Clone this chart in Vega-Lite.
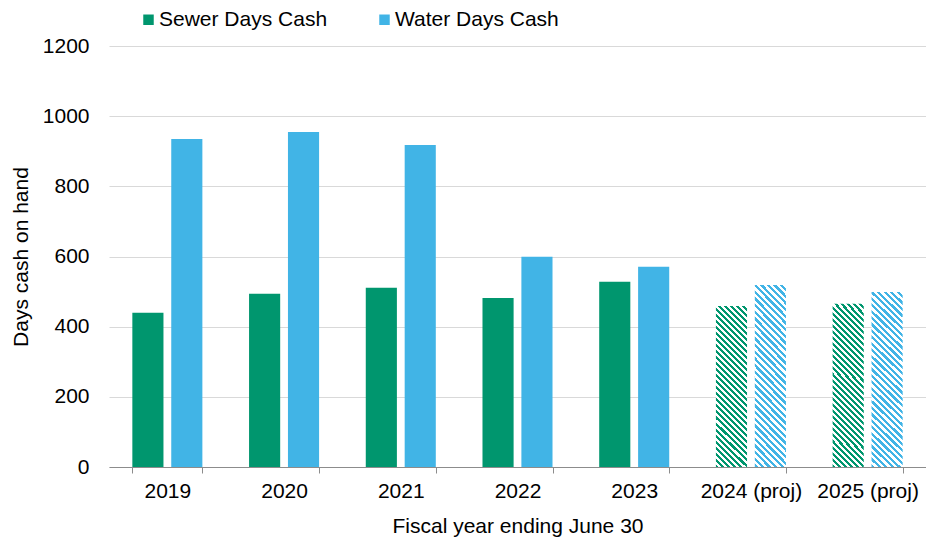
{
  "$schema": "https://vega.github.io/schema/vega-lite/v6.json",
  "width": 817,
  "height": 421,
  "autosize": {"type": "none"},
  "padding": {"left": 109, "top": 46, "right": 0, "bottom": 71},
  "background": "white",
  "config": {
    "font": "Liberation Sans",
    "view": {"stroke": null},
    "axis": {"labelColor": "#000", "titleColor": "#000", "labelFontSize": 21, "titleFontSize": 21, "titleFontWeight": "normal"},
    "legend": {"labelColor": "#000"}
  },
  "data": {
    "values": [
      {"year": "2019", "series": "Sewer Days Cash", "days": 440},
      {"year": "2019", "series": "Water Days Cash", "days": 935},
      {"year": "2020", "series": "Sewer Days Cash", "days": 494},
      {"year": "2020", "series": "Water Days Cash", "days": 955},
      {"year": "2021", "series": "Sewer Days Cash", "days": 511},
      {"year": "2021", "series": "Water Days Cash", "days": 918},
      {"year": "2022", "series": "Sewer Days Cash", "days": 482},
      {"year": "2022", "series": "Water Days Cash", "days": 599},
      {"year": "2023", "series": "Sewer Days Cash", "days": 528},
      {"year": "2023", "series": "Water Days Cash", "days": 571},
      {"year": "2024 (proj)", "series": "Sewer Days Cash", "days": 459},
      {"year": "2024 (proj)", "series": "Water Days Cash", "days": 519},
      {"year": "2025 (proj)", "series": "Sewer Days Cash", "days": 465},
      {"year": "2025 (proj)", "series": "Water Days Cash", "days": 499}
    ]
  },
  "mark": {"type": "bar"},
  "encoding": {
    "x": {
      "field": "year", "type": "nominal", "sort": null,
      "scale": {"paddingInner": 0.4, "paddingOuter": 0.2},
      "axis": {
        "title": "Fiscal year ending June 30", "labelAngle": 0, "tickBand": "extent",
        "domainColor": "#8c8c8c", "tickColor": "#8c8c8c", "tickSize": 6,
        "labelPadding": 7, "titlePadding": 14, "grid": false
      }
    },
    "xOffset": {
      "field": "series", "type": "nominal", "sort": ["Sewer Days Cash", "Water Days Cash"],
      "scale": {"paddingInner": 0.2, "paddingOuter": 0}
    },
    "y": {
      "field": "days", "type": "quantitative",
      "scale": {"domain": [0, 1200]},
      "axis": {
        "title": "Days cash on hand", "values": [0, 200, 400, 600, 800, 1000, 1200], "format": "d",
        "domain": false, "ticks": false, "labelPadding": 20, "titlePadding": 11,
        "gridColor": "#d9d9d9", "gridWidth": 1
      }
    },
    "fill": {
      "condition": [
        {
          "test": "datum.series === 'Sewer Days Cash' && indexof(datum.year, 'proj') >= 0",
          "value": {
            "gradient": "linear", "x1": 0, "y1": 1, "x2": 0.2223, "y2": -0.1515,
            "stops": [
              {"offset":0,"color":"#00966E"},{"offset":0.015625,"color":"#00966E"},{"offset":0.015625,"color":"#fff"},{"offset":0.03125,"color":"#fff"},
              {"offset":0.03125,"color":"#00966E"},{"offset":0.046875,"color":"#00966E"},{"offset":0.046875,"color":"#fff"},{"offset":0.0625,"color":"#fff"},
              {"offset":0.0625,"color":"#00966E"},{"offset":0.078125,"color":"#00966E"},{"offset":0.078125,"color":"#fff"},{"offset":0.09375,"color":"#fff"},
              {"offset":0.09375,"color":"#00966E"},{"offset":0.109375,"color":"#00966E"},{"offset":0.109375,"color":"#fff"},{"offset":0.125,"color":"#fff"},
              {"offset":0.125,"color":"#00966E"},{"offset":0.140625,"color":"#00966E"},{"offset":0.140625,"color":"#fff"},{"offset":0.15625,"color":"#fff"},
              {"offset":0.15625,"color":"#00966E"},{"offset":0.171875,"color":"#00966E"},{"offset":0.171875,"color":"#fff"},{"offset":0.1875,"color":"#fff"},
              {"offset":0.1875,"color":"#00966E"},{"offset":0.203125,"color":"#00966E"},{"offset":0.203125,"color":"#fff"},{"offset":0.21875,"color":"#fff"},
              {"offset":0.21875,"color":"#00966E"},{"offset":0.234375,"color":"#00966E"},{"offset":0.234375,"color":"#fff"},{"offset":0.25,"color":"#fff"},
              {"offset":0.25,"color":"#00966E"},{"offset":0.265625,"color":"#00966E"},{"offset":0.265625,"color":"#fff"},{"offset":0.28125,"color":"#fff"},
              {"offset":0.28125,"color":"#00966E"},{"offset":0.296875,"color":"#00966E"},{"offset":0.296875,"color":"#fff"},{"offset":0.3125,"color":"#fff"},
              {"offset":0.3125,"color":"#00966E"},{"offset":0.328125,"color":"#00966E"},{"offset":0.328125,"color":"#fff"},{"offset":0.34375,"color":"#fff"},
              {"offset":0.34375,"color":"#00966E"},{"offset":0.359375,"color":"#00966E"},{"offset":0.359375,"color":"#fff"},{"offset":0.375,"color":"#fff"},
              {"offset":0.375,"color":"#00966E"},{"offset":0.390625,"color":"#00966E"},{"offset":0.390625,"color":"#fff"},{"offset":0.40625,"color":"#fff"},
              {"offset":0.40625,"color":"#00966E"},{"offset":0.421875,"color":"#00966E"},{"offset":0.421875,"color":"#fff"},{"offset":0.4375,"color":"#fff"},
              {"offset":0.4375,"color":"#00966E"},{"offset":0.453125,"color":"#00966E"},{"offset":0.453125,"color":"#fff"},{"offset":0.46875,"color":"#fff"},
              {"offset":0.46875,"color":"#00966E"},{"offset":0.484375,"color":"#00966E"},{"offset":0.484375,"color":"#fff"},{"offset":0.5,"color":"#fff"},
              {"offset":0.5,"color":"#00966E"},{"offset":0.515625,"color":"#00966E"},{"offset":0.515625,"color":"#fff"},{"offset":0.53125,"color":"#fff"},
              {"offset":0.53125,"color":"#00966E"},{"offset":0.546875,"color":"#00966E"},{"offset":0.546875,"color":"#fff"},{"offset":0.5625,"color":"#fff"},
              {"offset":0.5625,"color":"#00966E"},{"offset":0.578125,"color":"#00966E"},{"offset":0.578125,"color":"#fff"},{"offset":0.59375,"color":"#fff"},
              {"offset":0.59375,"color":"#00966E"},{"offset":0.609375,"color":"#00966E"},{"offset":0.609375,"color":"#fff"},{"offset":0.625,"color":"#fff"},
              {"offset":0.625,"color":"#00966E"},{"offset":0.640625,"color":"#00966E"},{"offset":0.640625,"color":"#fff"},{"offset":0.65625,"color":"#fff"},
              {"offset":0.65625,"color":"#00966E"},{"offset":0.671875,"color":"#00966E"},{"offset":0.671875,"color":"#fff"},{"offset":0.6875,"color":"#fff"},
              {"offset":0.6875,"color":"#00966E"},{"offset":0.703125,"color":"#00966E"},{"offset":0.703125,"color":"#fff"},{"offset":0.71875,"color":"#fff"},
              {"offset":0.71875,"color":"#00966E"},{"offset":0.734375,"color":"#00966E"},{"offset":0.734375,"color":"#fff"},{"offset":0.75,"color":"#fff"},
              {"offset":0.75,"color":"#00966E"},{"offset":0.765625,"color":"#00966E"},{"offset":0.765625,"color":"#fff"},{"offset":0.78125,"color":"#fff"},
              {"offset":0.78125,"color":"#00966E"},{"offset":0.796875,"color":"#00966E"},{"offset":0.796875,"color":"#fff"},{"offset":0.8125,"color":"#fff"},
              {"offset":0.8125,"color":"#00966E"},{"offset":0.828125,"color":"#00966E"},{"offset":0.828125,"color":"#fff"},{"offset":0.84375,"color":"#fff"},
              {"offset":0.84375,"color":"#00966E"},{"offset":0.859375,"color":"#00966E"},{"offset":0.859375,"color":"#fff"},{"offset":0.875,"color":"#fff"},
              {"offset":0.875,"color":"#00966E"},{"offset":0.890625,"color":"#00966E"},{"offset":0.890625,"color":"#fff"},{"offset":0.90625,"color":"#fff"},
              {"offset":0.90625,"color":"#00966E"},{"offset":0.921875,"color":"#00966E"},{"offset":0.921875,"color":"#fff"},{"offset":0.9375,"color":"#fff"},
              {"offset":0.9375,"color":"#00966E"},{"offset":0.953125,"color":"#00966E"},{"offset":0.953125,"color":"#fff"},{"offset":0.96875,"color":"#fff"},
              {"offset":0.96875,"color":"#00966E"},{"offset":0.984375,"color":"#00966E"},{"offset":0.984375,"color":"#fff"},{"offset":1,"color":"#fff"}
            ]
          }
        },
        {
          "test": "datum.series === 'Water Days Cash' && indexof(datum.year, 'proj') >= 0",
          "value": {
            "gradient": "linear", "x1": 0, "y1": 1, "x2": 0.1985, "y2": -0.1395,
            "stops": [
              {"offset":0,"color":"#41B4E6"},{"offset":0.015625,"color":"#41B4E6"},{"offset":0.015625,"color":"#fff"},{"offset":0.03125,"color":"#fff"},
              {"offset":0.03125,"color":"#41B4E6"},{"offset":0.046875,"color":"#41B4E6"},{"offset":0.046875,"color":"#fff"},{"offset":0.0625,"color":"#fff"},
              {"offset":0.0625,"color":"#41B4E6"},{"offset":0.078125,"color":"#41B4E6"},{"offset":0.078125,"color":"#fff"},{"offset":0.09375,"color":"#fff"},
              {"offset":0.09375,"color":"#41B4E6"},{"offset":0.109375,"color":"#41B4E6"},{"offset":0.109375,"color":"#fff"},{"offset":0.125,"color":"#fff"},
              {"offset":0.125,"color":"#41B4E6"},{"offset":0.140625,"color":"#41B4E6"},{"offset":0.140625,"color":"#fff"},{"offset":0.15625,"color":"#fff"},
              {"offset":0.15625,"color":"#41B4E6"},{"offset":0.171875,"color":"#41B4E6"},{"offset":0.171875,"color":"#fff"},{"offset":0.1875,"color":"#fff"},
              {"offset":0.1875,"color":"#41B4E6"},{"offset":0.203125,"color":"#41B4E6"},{"offset":0.203125,"color":"#fff"},{"offset":0.21875,"color":"#fff"},
              {"offset":0.21875,"color":"#41B4E6"},{"offset":0.234375,"color":"#41B4E6"},{"offset":0.234375,"color":"#fff"},{"offset":0.25,"color":"#fff"},
              {"offset":0.25,"color":"#41B4E6"},{"offset":0.265625,"color":"#41B4E6"},{"offset":0.265625,"color":"#fff"},{"offset":0.28125,"color":"#fff"},
              {"offset":0.28125,"color":"#41B4E6"},{"offset":0.296875,"color":"#41B4E6"},{"offset":0.296875,"color":"#fff"},{"offset":0.3125,"color":"#fff"},
              {"offset":0.3125,"color":"#41B4E6"},{"offset":0.328125,"color":"#41B4E6"},{"offset":0.328125,"color":"#fff"},{"offset":0.34375,"color":"#fff"},
              {"offset":0.34375,"color":"#41B4E6"},{"offset":0.359375,"color":"#41B4E6"},{"offset":0.359375,"color":"#fff"},{"offset":0.375,"color":"#fff"},
              {"offset":0.375,"color":"#41B4E6"},{"offset":0.390625,"color":"#41B4E6"},{"offset":0.390625,"color":"#fff"},{"offset":0.40625,"color":"#fff"},
              {"offset":0.40625,"color":"#41B4E6"},{"offset":0.421875,"color":"#41B4E6"},{"offset":0.421875,"color":"#fff"},{"offset":0.4375,"color":"#fff"},
              {"offset":0.4375,"color":"#41B4E6"},{"offset":0.453125,"color":"#41B4E6"},{"offset":0.453125,"color":"#fff"},{"offset":0.46875,"color":"#fff"},
              {"offset":0.46875,"color":"#41B4E6"},{"offset":0.484375,"color":"#41B4E6"},{"offset":0.484375,"color":"#fff"},{"offset":0.5,"color":"#fff"},
              {"offset":0.5,"color":"#41B4E6"},{"offset":0.515625,"color":"#41B4E6"},{"offset":0.515625,"color":"#fff"},{"offset":0.53125,"color":"#fff"},
              {"offset":0.53125,"color":"#41B4E6"},{"offset":0.546875,"color":"#41B4E6"},{"offset":0.546875,"color":"#fff"},{"offset":0.5625,"color":"#fff"},
              {"offset":0.5625,"color":"#41B4E6"},{"offset":0.578125,"color":"#41B4E6"},{"offset":0.578125,"color":"#fff"},{"offset":0.59375,"color":"#fff"},
              {"offset":0.59375,"color":"#41B4E6"},{"offset":0.609375,"color":"#41B4E6"},{"offset":0.609375,"color":"#fff"},{"offset":0.625,"color":"#fff"},
              {"offset":0.625,"color":"#41B4E6"},{"offset":0.640625,"color":"#41B4E6"},{"offset":0.640625,"color":"#fff"},{"offset":0.65625,"color":"#fff"},
              {"offset":0.65625,"color":"#41B4E6"},{"offset":0.671875,"color":"#41B4E6"},{"offset":0.671875,"color":"#fff"},{"offset":0.6875,"color":"#fff"},
              {"offset":0.6875,"color":"#41B4E6"},{"offset":0.703125,"color":"#41B4E6"},{"offset":0.703125,"color":"#fff"},{"offset":0.71875,"color":"#fff"},
              {"offset":0.71875,"color":"#41B4E6"},{"offset":0.734375,"color":"#41B4E6"},{"offset":0.734375,"color":"#fff"},{"offset":0.75,"color":"#fff"},
              {"offset":0.75,"color":"#41B4E6"},{"offset":0.765625,"color":"#41B4E6"},{"offset":0.765625,"color":"#fff"},{"offset":0.78125,"color":"#fff"},
              {"offset":0.78125,"color":"#41B4E6"},{"offset":0.796875,"color":"#41B4E6"},{"offset":0.796875,"color":"#fff"},{"offset":0.8125,"color":"#fff"},
              {"offset":0.8125,"color":"#41B4E6"},{"offset":0.828125,"color":"#41B4E6"},{"offset":0.828125,"color":"#fff"},{"offset":0.84375,"color":"#fff"},
              {"offset":0.84375,"color":"#41B4E6"},{"offset":0.859375,"color":"#41B4E6"},{"offset":0.859375,"color":"#fff"},{"offset":0.875,"color":"#fff"},
              {"offset":0.875,"color":"#41B4E6"},{"offset":0.890625,"color":"#41B4E6"},{"offset":0.890625,"color":"#fff"},{"offset":0.90625,"color":"#fff"},
              {"offset":0.90625,"color":"#41B4E6"},{"offset":0.921875,"color":"#41B4E6"},{"offset":0.921875,"color":"#fff"},{"offset":0.9375,"color":"#fff"},
              {"offset":0.9375,"color":"#41B4E6"},{"offset":0.953125,"color":"#41B4E6"},{"offset":0.953125,"color":"#fff"},{"offset":0.96875,"color":"#fff"},
              {"offset":0.96875,"color":"#41B4E6"},{"offset":0.984375,"color":"#41B4E6"},{"offset":0.984375,"color":"#fff"},{"offset":1,"color":"#fff"}
            ]
          }
        }
      ],
      "field": "series", "type": "nominal",
      "scale": {"domain": ["Sewer Days Cash", "Water Days Cash"], "range": ["#00966E", "#41B4E6"]},
      "legend": {
        "title": null, "orient": "none", "legendX": 29, "legendY": -37, "direction": "horizontal",
        "symbolType": "square", "symbolSize": 110, "symbolStrokeWidth": 0, "symbolOpacity": 1,
        "labelFontSize": 21, "labelOffset": 0, "labelLimit": 400, "columnPadding": 46, "padding": 0
      }
    }
  }
}
